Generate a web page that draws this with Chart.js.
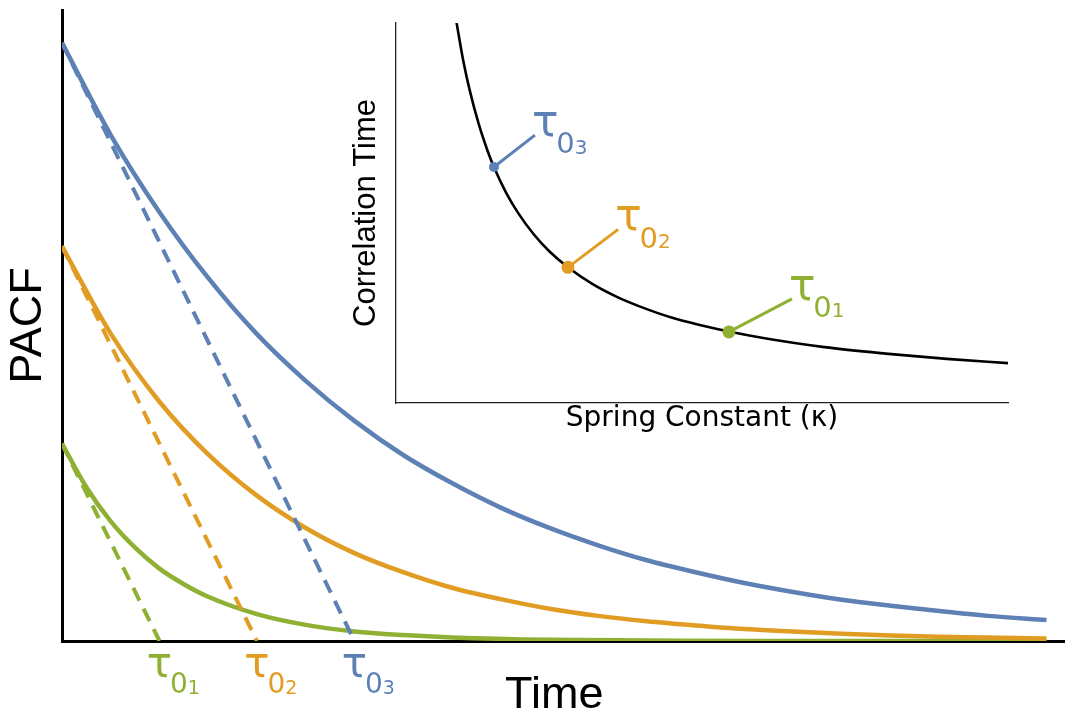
<!DOCTYPE html>
<html>
<head>
<meta charset="utf-8">
<script src="https://cdn.jsdelivr.net/npm/chart.js@4.4.1/dist/chart.umd.min.js"></script>
<style>
  html, body { margin: 0; padding: 0; background: #fff; }
  #wrap { position: relative; width: 1065px; height: 717px; overflow: hidden; }
  #main { position: absolute; left: 0; top: 0; }
  #inset { position: absolute; left: 330px; top: 0; }
</style>
</head>
<body>
<div id="wrap">
  <canvas id="main" width="1065" height="717"></canvas>
  <canvas id="inset" width="700" height="440"></canvas>
</div>
<script>
// main panel: PACF vs time
const timeSteps = [0, 0.5, 1, 1.5, 2, 2.5, 3, 3.5, 4, 4.5, 5, 5.5, 6, 6.5, 7, 7.5, 8, 8.5, 9, 9.5, 10.1];
const pacfSlow  = [1.000, 0.846, 0.717, 0.607, 0.513, 0.435, 0.368, 0.311, 0.264, 0.223, 0.189, 0.160, 0.135, 0.115, 0.097, 0.082, 0.069, 0.059, 0.050, 0.042, 0.035];
const pacfMid   = [0.660, 0.514, 0.400, 0.312, 0.243, 0.189, 0.147, 0.115, 0.089, 0.070, 0.054, 0.042, 0.033, 0.026, 0.020, 0.016, 0.012, 0.009, 0.007, 0.006, 0.004];
const timeFast  = [0, 0.25, 0.5, 0.75, 1, 1.25, 1.5, 2, 2.5, 3, 3.5, 4, 5, 6, 7, 8, 9, 10.1];
const pacfFast  = [0.330, 0.257, 0.200, 0.156, 0.121, 0.095, 0.074, 0.045, 0.027, 0.016, 0.010, 0.006, 0.002, 0.001, 0.000, 0.000, 0.000, 0.000];

// tau_0 for the three springs (index 1, 2, 3) and the PACF value at t = 0
const tauIndex  = ["1", "2", "3"];
const tauValues = [1, 2, 3];
const pacfStart = [0.33, 0.66, 1.0];

// inset: correlation time vs spring constant
const springK  = [0.98, 1.1, 1.2, 1.35, 1.5, 1.6, 1.8, 2.0, 2.25, 2.5, 2.81, 3.2, 3.6, 4.0, 4.5, 5.0, 5.44, 6, 7, 8, 9, 10];
const corrTime = [10.1, 9.0, 8.26, 7.35, 6.62, 6.21, 5.53, 4.99, 4.44, 4.0, 3.57, 3.14, 2.80, 2.53, 2.25, 2.04, 1.88, 1.71, 1.47, 1.30, 1.16, 1.05];
const markerK  = [5.44, 2.81, 1.6];
const markerT  = [1.87, 3.57, 6.21];
const calloutK = [6.47, 3.63, 2.27];
const calloutT = [2.74, 4.57, 7.05];

const colors = ["#8FB032", "#E19C24", "#5E81B5"];
const TAU_FONT = '"DejaVu Sans"';

Chart.defaults.font.family = "Liberation Sans";
Chart.defaults.color = "#000";

const pts = (xs, ys) => xs.map((x, i) => ({ x, y: ys[i] }));

function drawTau(ctx, x, y, digit, color, centered, big) {
  ctx.fillStyle = color;
  ctx.textBaseline = "alphabetic";
  ctx.textAlign = "left";
  ctx.font = `${big}px ${TAU_FONT}`;
  const w = ctx.measureText("τ").width;
  const left = centered ? x - w / 2 : x;
  ctx.fillText("τ", left, y);
  ctx.font = `${Math.round(big * 0.66)}px ${TAU_FONT}`;
  const x0 = left + w - big * 0.05;
  ctx.fillText("0", x0, y + big * 0.39);
  const w0 = ctx.measureText("0").width;
  ctx.font = `${Math.round(big * 0.45)}px ${TAU_FONT}`;
  ctx.fillText(digit, x0 + w0, y + big * 0.4);
}

const mainText = {
  id: "mainText",
  afterDraw(chart) {
    const { ctx, chartArea } = chart;
    const x = chart.scales.x;
    ctx.save();
    tauValues.forEach((tau, i) => {
      drawTau(ctx, x.getPixelForValue(tau), chartArea.bottom + 36, tauIndex[i], colors[i], true, 42);
    });
    ctx.fillStyle = "#000";
    ctx.font = '45px "Liberation Sans"';
    ctx.textAlign = "center";
    ctx.textBaseline = "middle";
    const mid = (x.getPixelForValue(timeSteps[0]) + x.getPixelForValue(timeSteps[timeSteps.length - 1])) / 2;
    ctx.fillText("Time", mid, chartArea.bottom + 55);
    ctx.restore();
  }
};

const insetText = {
  id: "insetText",
  afterDraw(chart) {
    const { ctx, scales: { x, y } } = chart;
    ctx.save();
    calloutK.forEach((k, i) => {
      drawTau(ctx, x.getPixelForValue(k) - 3, y.getPixelForValue(calloutT[i]) + 1, tauIndex[i], colors[i], false, 44);
    });
    ctx.restore();
  }
};

const solid = (label, data, color) => ({
  label, data, borderColor: color, borderWidth: 4.5, pointRadius: 0,
  cubicInterpolationMode: "monotone", fill: false, order: 1
});

const dashed = tauValues.map((tau, i) => ({
  label: "tangent " + tauIndex[i],
  data: [{ x: 0, y: pacfStart[i] }, { x: tau, y: 0 }],
  borderColor: colors[i], borderWidth: 4, borderDash: [14, 9],
  pointRadius: 0, fill: false, order: 0
}));

const noGrid = { display: false, drawTicks: false, tickLength: 0 };

new Chart(document.getElementById("main"), {
  type: "line",
  data: {
    datasets: [
      solid("τ03", pts(timeSteps, pacfSlow), colors[2]),
      solid("τ02", pts(timeSteps, pacfMid), colors[1]),
      solid("τ01", pts(timeFast, pacfFast), colors[0]),
      ...dashed
    ]
  },
  options: {
    responsive: false,
    devicePixelRatio: 1,
    animation: false,
    layout: { padding: { left: 0, top: 10, right: 0, bottom: 76 } },
    plugins: { legend: { display: false }, tooltip: { enabled: false } },
    scales: {
      x: {
        type: "linear", min: 0, max: 10.29,
        grid: noGrid, ticks: { display: false },
        border: { display: true, color: "#000", width: 3 }
      },
      y: {
        min: 0, max: 1.055,
        grid: noGrid, ticks: { display: false },
        border: { display: true, color: "#000", width: 3 },
        title: {
          display: true, text: "PACF", color: "#000",
          font: { size: 45, lineHeight: 1 }, padding: { top: 6, bottom: 11 }
        }
      }
    }
  },
  plugins: [mainText]
});

const callouts = markerK.map((k, i) => ({
  label: "τ0" + tauIndex[i],
  data: [{ x: k, y: markerT[i] }, { x: calloutK[i], y: calloutT[i] }],
  borderColor: colors[i], backgroundColor: colors[i],
  pointBackgroundColor: colors[i], pointBorderWidth: 0,
  pointRadius: [i === 2 ? 5 : 6.5, 0], borderWidth: 3, order: 0
}));

new Chart(document.getElementById("inset"), {
  type: "line",
  data: {
    datasets: [
      {
        label: "correlation time", data: pts(springK, corrTime),
        borderColor: "#000", borderWidth: 2.6, pointRadius: 0,
        cubicInterpolationMode: "monotone", clip: 0, order: 2
      },
      ...callouts
    ]
  },
  options: {
    responsive: false,
    devicePixelRatio: 1,
    animation: false,
    layout: { padding: { left: 0, top: 23, right: 22, bottom: 8.8 } },
    plugins: { legend: { display: false }, tooltip: { enabled: false } },
    scales: {
      x: {
        type: "linear", min: 0, max: 10,
        grid: noGrid, ticks: { display: false },
        border: { display: true, color: "#222", width: 1.3 },
        title: {
          display: true, text: "Spring Constant (κ)", color: "#000",
          font: { family: "DejaVu Sans", size: 28, lineHeight: 0.9 }, padding: { top: 3, bottom: 0 }
        }
      },
      y: {
        min: 0, max: 10,
        grid: noGrid, ticks: { display: false },
        border: { display: true, color: "#222", width: 1.3 },
        title: {
          display: true, text: "Correlation Time", color: "#000",
          font: { size: 31, lineHeight: 1 }, padding: { top: 20.5, bottom: 14.5 }
        }
      }
    }
  },
  plugins: [insetText]
});
</script>
</body>
</html>
